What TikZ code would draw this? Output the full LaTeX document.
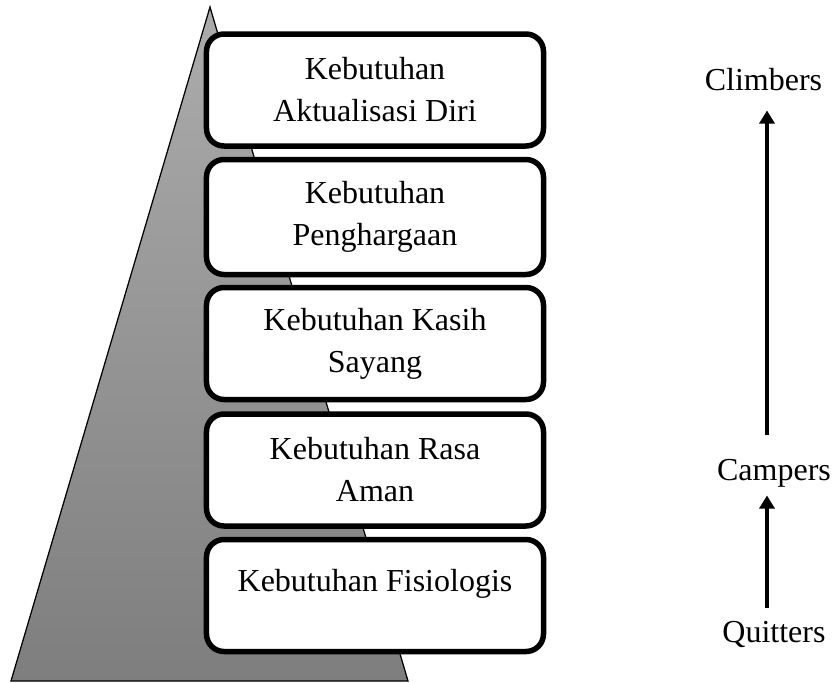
\documentclass[tikz,border=0pt]{standalone}
\usepackage{fontspec}
\setmainfont{Liberation Serif}
\definecolor{pyrtop}{RGB}{172, 172, 172}
\definecolor{pyrbottom}{RGB}{126, 126, 126}
\usetikzlibrary{arrows.meta, positioning}

\begin{document}
\begin{tikzpicture}[x=0.4pt, y=-0.4pt,
    needbox/.style={draw, fill=white, line width=2.2pt, rounded corners=7pt,
      minimum width=134.8pt, minimum height=44.8pt, align=center,
      font=\fontsize{12.8}{16.8}\selectfont},
    stagelabel/.style={inner sep=0pt, anchor=base, text height=8.8pt, text depth=2.8pt,
      font=\fontsize{12.8}{15}\selectfont},
    climb/.style={-{Triangle[width=6pt, length=5.2pt]}, line width=1.6pt}]
  \useasboundingbox (0,0) rectangle (835,682);

  % Pyramid
  \draw[line width=0.5pt, top color=pyrtop, bottom color=pyrbottom]
    (210,7) -- (408,681) -- (11,681) -- cycle;

  % Needs
  \node[needbox] (aktualisasi) at (375,90) {Kebutuhan\\Aktualisasi Diri};
  \node[needbox, minimum height=46pt] (penghargaan) at (375,217) {Kebutuhan\\Penghargaan};
  \node[needbox] (kasih) at (375,343.5) {Kebutuhan Kasih\\Sayang};
  \node[needbox] (aman) at (375,470) {Kebutuhan Rasa\\Aman};
  \node[needbox, text height=8.8pt, text depth=12pt] (fisiologis) at (375,595.5) {Kebutuhan Fisiologis};

  % Stages
  \coordinate (axis) at (767,0);
  \node[stagelabel] (climbers) at (763.5,90) {Climbers};
  \node[stagelabel] (campers) at (774,480) {Campers};
  \node[stagelabel] (quitters) at (774,642) {Quitters};

  \draw[climb, shorten <=9.2pt, shorten >=5.2pt] (campers.north -| axis) -- (climbers.south -| axis);
  \draw[climb, shorten <=4.8pt, shorten >=3.2pt] (quitters.north -| axis) -- (campers.south -| axis);
\end{tikzpicture}
\end{document}
